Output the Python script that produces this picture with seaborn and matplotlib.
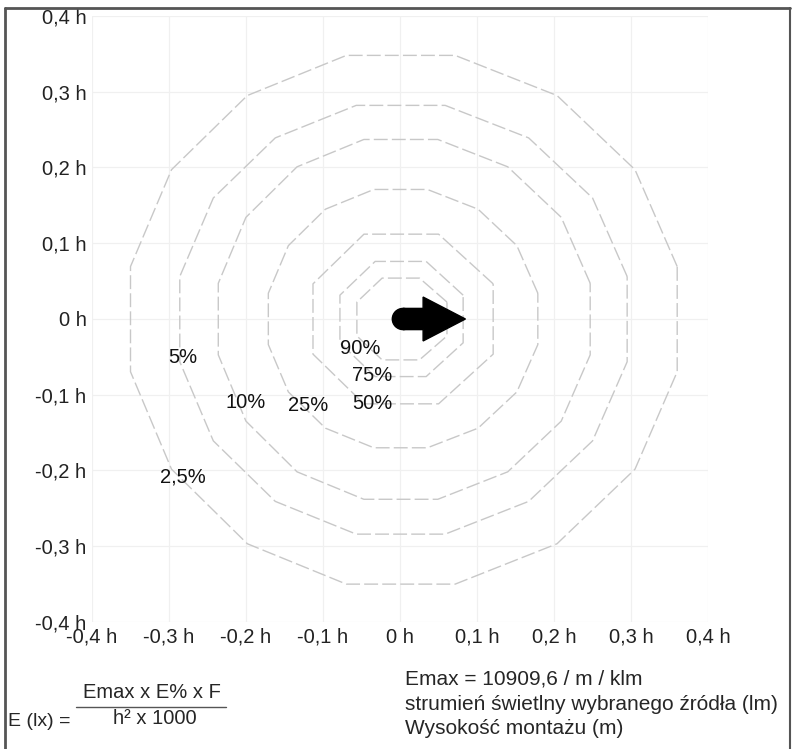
import numpy as np
import pandas as pd
import matplotlib.pyplot as plt
import seaborn as sns
from matplotlib.patches import FancyArrow, Circle
from matplotlib.lines import Line2D

# isolux levels (units of h)
levels = ['2,5%', '5%', '10%', '25%', '50%', '75%', '90%']
radius_left = [0.350, 0.286, 0.236, 0.171, 0.113, 0.078, 0.056]
radius_right = [0.360, 0.295, 0.247, 0.179, 0.121, 0.082, 0.061]
radius_top = [0.348, 0.282, 0.237, 0.171, 0.112, 0.076, 0.054]
radius_bottom = [0.350, 0.284, 0.238, 0.170, 0.112, 0.076, 0.054]
sides = [16, 16, 16, 16, 8, 8, 8]

label_x = [-0.282, -0.282, -0.201, -0.119, -0.036, -0.036, -0.052]
label_y = [-0.209, -0.051, -0.110, -0.114, -0.111, -0.075, -0.039]

ticks = [-0.4, -0.3, -0.2, -0.1, 0.0, 0.1, 0.2, 0.3, 0.4]
tick_labels = ['-0,4 h', '-0,3 h', '-0,2 h', '-0,1 h', '0 h', '0,1 h', '0,2 h', '0,3 h', '0,4 h']

# build contour polygons (flat sides facing the axes)
rows = []
for i, lev in enumerate(levels):
    n = sides[i]
    ang = np.deg2rad(180.0 / n + np.arange(n + 1) * 360.0 / n)
    c, s = np.cos(ang), np.sin(ang)
    rx = np.where(c >= 0, radius_right[i], radius_left[i])
    ry = np.where(s >= 0, radius_top[i], radius_bottom[i])
    k = 1 / np.cos(np.pi / n)
    for j, (x, y) in enumerate(zip(rx * c * k, ry * s * k)):
        rows.append({'level': lev, 'order': j, 'x': x, 'y': y})
df = pd.DataFrame(rows)

sns.set_theme(style='white')
plt.rcParams['font.family'] = ['Liberation Sans', 'DejaVu Sans']
fs = 14.5

fig = plt.figure(figsize=(7.94, 7.49), dpi=100)
ax = fig.add_axes([92 / 794, 1 - 622 / 749, 616 / 794, 606 / 749])

for t in ticks:
    ax.axvline(t, color='#f0f0f0', lw=0.9, zorder=0)
    ax.axhline(t, color='#f0f0f0', lw=0.9, zorder=0)

sns.lineplot(data=df, x='x', y='y', units='level', estimator=None, sort=False,
             color='#c8c8c8', lw=1.0, ax=ax)
for line in ax.get_lines():
    if line.get_color() == '#c8c8c8':
        line.set_linestyle((0, (10, 3)))

for lab, x, y in zip(levels, label_x, label_y):
    ax.text(x, y, lab, ha='center', va='center', fontsize=fs, color='#111111')

# luminaire direction arrow
ax.add_patch(FancyArrow(0.004, 0.0, 0.081, 0.0, width=0.028, head_width=0.058,
                        head_length=0.055, length_includes_head=True,
                        color='black', zorder=5))
ax.add_patch(Circle((0.004, 0.0), 0.014, color='black', zorder=5))

ax.set_xlim(-0.4, 0.4)
ax.set_ylim(-0.4, 0.4)
ax.set_xticks(ticks)
ax.set_xticklabels(tick_labels)
ax.set_yticks(ticks)
ax.set_yticklabels(tick_labels)
ax.tick_params(length=0, labelsize=fs, colors='#222222', pad=4)
ax.set_xlabel('')
ax.set_ylabel('')
for sp in ax.spines.values():
    sp.set_visible(False)

# formula block
fig.text(8 / 794, 1 - 722 / 749, 'E (lx) =', fontsize=14, va='center', ha='left')
fig.text(152 / 794, 1 - 692 / 749, 'Emax x E% x F', fontsize=fs, va='center', ha='center')
fig.text(155 / 794, 1 - 719 / 749, 'h² x 1000', fontsize=fs, va='center', ha='center')
fig.add_artist(Line2D([76 / 794, 226 / 794], [1 - 707 / 749] * 2, color='#555555', lw=1))
notes = ['Emax = 10909,6 / m / klm', 'strumień świetlny wybranego źródła (lm)', 'Wysokość montażu (m)']
for i, t in enumerate(notes):
    fig.text(405 / 794, 1 - (679 + 25 * i) / 749, t, fontsize=15, va='center', ha='left')

# page frame
fig.add_artist(Line2D([5 / 794, 5 / 794], [0, 1 - 8 / 749], color='#555555', lw=2))
fig.add_artist(Line2D([5 / 794, 790 / 794], [1 - 8 / 749] * 2, color='#555555', lw=2))
fig.add_artist(Line2D([790 / 794, 790 / 794], [0, 1 - 8 / 749], color='#555555', lw=1.5))

fig.savefig('out.png', dpi=100)
